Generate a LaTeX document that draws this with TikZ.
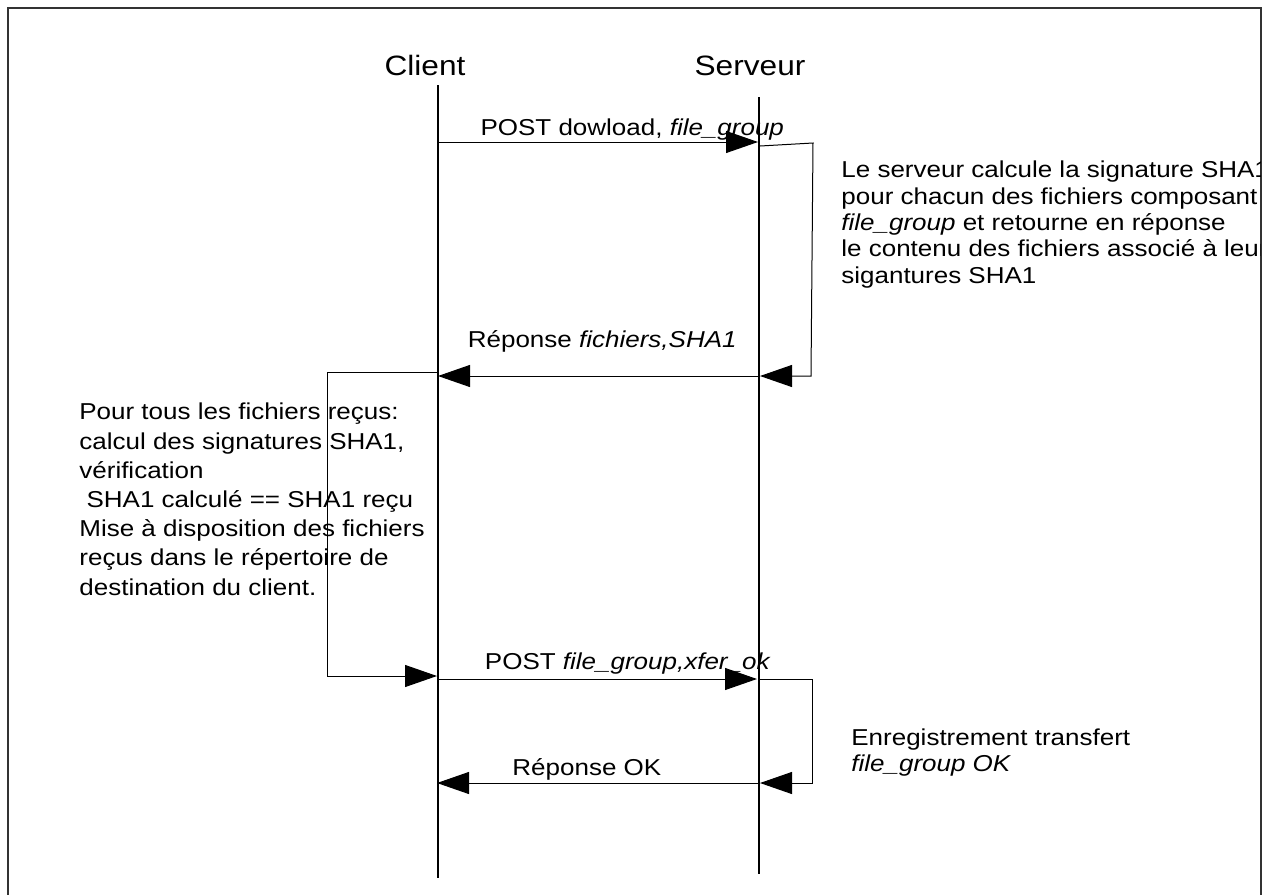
\documentclass[tikz,border=0pt]{standalone}
\usepackage{fontspec}
\setmainfont{Liberation Sans}[FakeStretch=1.13, Ligatures=NoCommon]
\usetikzlibrary{arrows.meta}

\begin{document}
\begin{tikzpicture}[
  x=0.5pt, y=-0.5pt,
  msg/.style={-{Triangle[length=16pt, width=11pt]}, line width=0.5pt},
  lifeline/.style={line width=0.6pt},
  actor/.style={font=\fontsize{14}{16}\selectfont, inner sep=0pt, anchor=base},
  lbl/.style={font=\fontsize{11.5}{13}\selectfont, inner sep=0pt, anchor=base},
  note/.style={align=left, inner sep=0pt, anchor=base west}
]
\useasboundingbox (0,0) rectangle (1265,895);
\fill[white] (0,0) rectangle (1265,895);

% Frame
\draw[line width=0.6pt, black!80] (8,895) -- (8,8) -- (1261,8) -- (1261,895);

% Actors
\node[actor] (client) at (425,75) {Client};
\node[actor] (serveur) at (750,75) {Serveur};

% Lifelines
\coordinate (cTop) at (438,85);
\coordinate (cBot) at (438,878);
\coordinate (sTop) at (759,97);
\coordinate (sBot) at (759,874);
\draw[lifeline] (cTop) -- (cBot);
\draw[lifeline] (sTop) -- (sBot);

% Points on the lifelines
\coordinate (c1) at (438,142);
\coordinate (s1) at (758,142);
\coordinate (s1b) at (760,146);
\coordinate (s2) at (760,376);
\coordinate (c2) at (438,376);
\coordinate (c2b) at (438,372);
\coordinate (c3) at (437,676);
\coordinate (c3b) at (438,679);
\coordinate (s3) at (757,679);
\coordinate (s3b) at (760,679);
\coordinate (s4) at (760,783);
\coordinate (c4) at (437,783);

% Self loops
\coordinate (loopA1) at (813,143);
\coordinate (loopA2) at (811,376);
\coordinate (loopB1) at (327,372);
\coordinate (loopB2) at (327,676);
\coordinate (loopC1) at (812,679);
\coordinate (loopC2) at (812,783);

% Messages
\draw[msg] (c1) -- node[lbl, pos=0.607, yshift=3.5pt]{POST dowload, \textit{file\_group}} (s1);
\draw[msg] (s1b) -- (loopA1) -- (loopA2) -- (s2);
\draw[msg] (s2) -- node[lbl, pos=0.49, yshift=14.5pt]{Réponse \textit{fichiers,SHA1}} (c2);
\draw[msg] (c2b) -- (loopB1) -- (loopB2) -- (c3);
\draw[msg] (c3b) -- node[lbl, pos=0.595, yshift=5pt]{POST \textit{file\_group,xfer\_ok}} (s3);
\draw[msg] (s3b) -- (loopC1) -- (loopC2) -- (s4);
\draw[msg] (s4) -- node[lbl, pos=0.536, yshift=4pt]{Réponse OK} (c4);

% Notes (anchored on the baseline of their last line)
\begin{scope}
  \clip (0,0) rectangle (1260,895);
  \node[note, font=\fontsize{11.5}{13.15}\selectfont] (calcServeur) at (841,283)
    {Le serveur calcule la signature SHA1\\
     pour chacun des fichiers composant\\
     \textit{file\_group} et retourne en réponse\\
     le contenu des fichiers associé à leur\\
     sigantures SHA1};
\end{scope}
\node[note, font=\fontsize{11.5}{14.6}\selectfont] (verifClient) at (79,595)
  {Pour tous les fichiers reçus:\\
   calcul des signatures SHA1,\\
   vérification\\
   \ SHA1 calculé == SHA1 reçu\\
   Mise à disposition des fichiers\\
   reçus dans le répertoire de\\
   destination du client.};
\node[note, font=\fontsize{11.5}{13}\selectfont] (enregServeur) at (851,771)
  {Enregistrement transfert\\
   \textit{file\_group OK}};

\end{tikzpicture}
\end{document}
